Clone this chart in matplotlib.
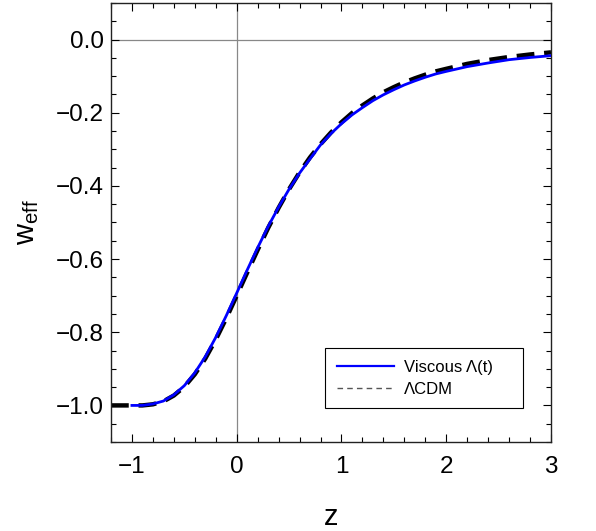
import numpy as np
import matplotlib.pyplot as plt
from matplotlib.lines import Line2D
from matplotlib.ticker import MultipleLocator

plt.rcParams['font.family'] = ['Liberation Sans', 'DejaVu Sans']
plt.rcParams['mathtext.fontset'] = 'custom'
plt.rcParams['mathtext.rm'] = 'Liberation Sans'

# LambdaCDM curve
z_lcdm = [-1.2, -1.1, -1.0, -0.9, -0.8, -0.7, -0.6, -0.5, -0.4, -0.3, -0.2, -0.1,
          0.0, 0.1, 0.2, 0.3, 0.4, 0.5, 0.6, 0.7, 0.8, 0.9, 1.0, 1.1, 1.2, 1.3,
          1.4, 1.5, 1.6, 1.7, 1.8, 1.9, 2.0, 2.2, 2.4, 2.6, 2.8, 3.0]
w_lcdm = [-1.0, -1.0, -1.0, -1.0, -0.997, -0.989, -0.973, -0.949, -0.915, -0.872, -0.820, -0.762,
          -0.700, -0.637, -0.575, -0.515, -0.460, -0.409, -0.363, -0.322, -0.286, -0.254, -0.226, -0.201,
          -0.180, -0.161, -0.144, -0.130, -0.117, -0.106, -0.096, -0.087, -0.080, -0.0665, -0.056,
          -0.0476, -0.0408, -0.035]

# Viscous Lambda(t) curve
z_visc = [-1.0, -0.9, -0.8, -0.7, -0.6, -0.5, -0.4, -0.3, -0.2, -0.1,
          0.0, 0.1, 0.2, 0.3, 0.4, 0.5, 0.6, 0.7, 0.8, 0.9, 1.0, 1.1, 1.2, 1.3,
          1.4, 1.5, 1.6, 1.7, 1.8, 1.9, 2.0, 2.2, 2.4, 2.6, 2.8, 3.0]
w_visc = [-1.0, -1.0, -0.996, -0.988, -0.971, -0.946, -0.911, -0.867, -0.814, -0.755,
          -0.693, -0.630, -0.569, -0.511, -0.458, -0.409, -0.365, -0.326, -0.288, -0.257,
          -0.230, -0.206, -0.186, -0.167, -0.151, -0.137, -0.124, -0.113, -0.103, -0.094,
          -0.087, -0.074, -0.064, -0.055, -0.049, -0.044]

fig = plt.figure(figsize=(5.96, 5.31), dpi=100)
ax = fig.add_axes([0.1862, 0.1676, 0.7383, 0.8268])

ax.axhline(0, color='#888888', lw=0.9, zorder=1)
ax.axvline(0, color='#888888', lw=0.9, zorder=1)

ax.plot(z_visc, w_visc, color='blue', lw=2.0, zorder=3)
ax.plot(z_lcdm, w_lcdm, color='black', lw=3.2, ls=(0, (4, 2.2)), zorder=2)

ax.set_xlim(-1.2, 3.0)
ax.set_ylim(-1.1, 0.1)
ax.xaxis.set_major_locator(MultipleLocator(1))
ax.xaxis.set_minor_locator(MultipleLocator(0.2))
ax.yaxis.set_major_locator(MultipleLocator(0.2))
ax.yaxis.set_minor_locator(MultipleLocator(0.05))
ax.tick_params(which='both', direction='in', top=True, right=True, labelsize=17.5, width=0.8)
ax.tick_params(which='major', length=6)
ax.tick_params(which='minor', length=3.5)
ax.tick_params(axis='y', which='major', pad=5)
ax.tick_params(axis='x', which='major', pad=10)
ax.xaxis.set_major_formatter(plt.FuncFormatter(lambda v, p: f'{v:.0f}'.replace('-', '\u2212')))
ax.yaxis.set_major_formatter(plt.FuncFormatter(lambda v, p: f'{v:.1f}'.replace('-', '\u2212')))

for s in ax.spines.values():
    s.set_linewidth(1.0)
    s.set_color('#222222')

ax.set_xlabel('z', fontsize=21, labelpad=18)
ax.set_ylabel(r'$\mathrm{w}_{\mathrm{eff}}$', fontsize=21, labelpad=11)

handles = [Line2D([], [], color='blue', lw=1.6),
           Line2D([], [], color='#555555', lw=1.0, ls=(0, (4, 3)))]
leg = ax.legend(handles, ['Viscous \u039b(t)    ', '\u039bCDM'], loc='lower right',
                bbox_to_anchor=(0.936, 0.077), borderaxespad=0, fontsize=12,
                fancybox=False, framealpha=1, edgecolor='black', handlelength=3.4,
                handletextpad=0.6, borderpad=0.7, labelspacing=0.4)
leg.get_frame().set_linewidth(0.8)

plt.savefig('out.png', dpi=100)
